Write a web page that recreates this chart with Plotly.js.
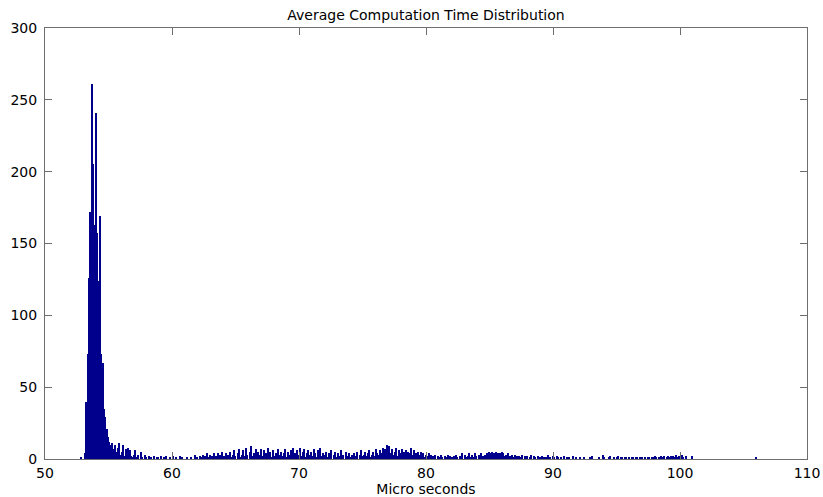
<!DOCTYPE html>
<html>
<head>
<meta charset="utf-8">
<script src="https://cdn.plot.ly/plotly-3.0.1.min.js"></script>
<style>
  html, body { margin: 0; padding: 0; background: #fff; }
  #chart { width: 823px; height: 497px; }
</style>
</head>
<body>
<div id="chart"></div>
<script>
// Histogram of average computation time (microseconds), 500 equal bins.
const firstBinCenter = 52.85;
const binWidth = 0.1065;

// Counts per bin, ten bins per row (each row spans about 1.06 us).
const binCounts = [
  1, 0, 0, 4, 40, 73, 126, 172, 261, 205,
  163, 241, 157, 124, 169, 73, 67, 35, 29, 21,
  15, 12, 10, 11, 7, 10, 5, 8, 11, 3,
  5, 10, 2, 7, 3, 8, 6, 2, 1, 3,
  6, 1, 3, 0, 5, 1, 0, 3, 1, 0,
  2, 0, 1, 0, 2, 0, 1, 1, 0, 2,
  0, 1, 0, 2, 0, 0, 1, 0, 2, 0,
  1, 0, 0, 2, 0, 1, 0, 0, 1, 0,
  0, 1, 0, 0, 3, 0, 1, 0, 2, 1,
  3, 0, 2, 4, 1, 3, 0, 2, 4, 1,
  2, 4, 0, 3, 5, 1, 2, 4, 0, 3,
  5, 1, 3, 6, 2, 0, 4, 7, 1, 3,
  6, 2, 8, 3, 0, 5, 9, 2, 4, 7,
  1, 5, 3, 7, 2, 6, 0, 4, 8, 3,
  5, 1, 6, 2, 4, 0, 7, 3, 5, 2,
  4, 7, 1, 5, 3, 6, 2, 8, 4, 1,
  6, 3, 8, 2, 5, 7, 1, 4, 6, 3,
  5, 2, 7, 4, 1, 6, 3, 8, 2, 4,
  3, 5, 1, 4, 2, 6, 0, 3, 5, 1,
  4, 2, 6, 1, 3, 0, 5, 2, 4, 1,
  3, 1, 4, 2, 5, 0, 3, 6, 2, 3,
  5, 2, 4, 6, 1, 3, 5, 2, 7, 4,
  3, 6, 4, 8, 2, 7, 10, 5, 9, 4,
  7, 3, 5, 8, 2, 6, 4, 7, 3, 5,
  6, 2, 5, 4, 8, 3, 6, 2, 4, 5,
  3, 5, 2, 4, 1, 3, 2, 4, 1, 3,
  2, 1, 3, 0, 2, 1, 3, 1, 0, 2,
  1, 3, 0, 2, 1, 0, 2, 3, 1, 0,
  2, 1, 4, 0, 3, 1, 2, 4, 1, 3,
  1, 4, 2, 0, 3, 1, 4, 2, 1, 3,
  4, 4, 5, 4, 5, 4, 4, 5, 4, 3,
  4, 5, 4, 2, 3, 1, 4, 2, 0, 3,
  1, 3, 2, 0, 2, 1, 3, 0, 2, 1,
  2, 0, 1, 3, 0, 2, 1, 0, 2, 1,
  0, 2, 1, 0, 1, 3, 0, 1, 0, 2,
  1, 0, 2, 1, 0, 1, 0, 2, 0, 1,
  0, 1, 0, 0, 2, 0, 1, 0, 0, 1,
  0, 0, 1, 0, 0, 0, 1, 0, 2, 0,
  0, 0, 0, 1, 0, 0, 3, 1, 0, 0,
  1, 2, 0, 0, 1, 0, 1, 2, 0, 1,
  1, 0, 1, 1, 0, 1, 0, 1, 1, 0,
  1, 1, 0, 1, 1, 1, 0, 1, 0, 1,
  1, 0, 1, 1, 2, 1, 0, 1, 1, 2,
  1, 2, 0, 1, 2, 1, 2, 0, 2, 1,
  3, 1, 2, 0, 3, 1, 0, 2, 0, 0,
  0, 0, 2, 0, 0, 0, 0, 0, 0, 0,
  0, 0, 0, 0, 0, 0, 0, 0, 0, 0,
  0, 0, 0, 0, 0, 0, 0, 0, 0, 0,
  0, 0, 0, 0, 0, 0, 0, 0, 0, 0,
  0, 0, 0, 0, 0, 0, 0, 0, 0, 1
];

const binCenters = binCounts.map((_, i) => firstBinCenter + i * binWidth);

const xTickValues = [50, 60, 70, 80, 90, 100, 110];
const yTickValues = [0, 50, 100, 150, 200, 250, 300];

const textFont = { family: 'DejaVu Sans, Arial, sans-serif', size: 14, color: '#000' };
const frameColor = '#6e6e6e';

const trace = {
  type: 'bar',
  x: binCenters,
  y: binCounts,
  width: binWidth,
  marker: { color: '#00008c', line: { width: 0 } },
  hoverinfo: 'x+y'
};

const commonAxis = {
  showgrid: false,
  zeroline: false,
  showline: true,
  linecolor: frameColor,
  linewidth: 1,
  mirror: 'allticks',
  ticks: 'inside',
  ticklen: 7,
  tickwidth: 1,
  tickcolor: frameColor,
  tickfont: textFont,
  fixedrange: true
};

const layout = {
  width: 823,
  height: 497,
  margin: { l: 45, r: 16, t: 28, b: 38, pad: 0 },
  paper_bgcolor: '#fff',
  plot_bgcolor: '#fff',
  showlegend: false,
  bargap: 0,
  title: {
    text: 'Average Computation Time Distribution',
    font: textFont,
    x: 0.5,
    xref: 'paper',
    y: 1 - 15 / 497,
    yref: 'container',
    yanchor: 'middle'
  },
  xaxis: Object.assign({}, commonAxis, {
    range: [50, 110],
    tickvals: xTickValues,
    ticktext: xTickValues.map(String),
    ticklabelstandoff: 1,
    title: { text: 'Micro seconds', font: textFont, standoff: 1 }
  }),
  yaxis: Object.assign({}, commonAxis, {
    range: [0, 300],
    tickvals: yTickValues,
    ticktext: yTickValues.map(String),
    ticklabelstandoff: 4
  })
};

Plotly.newPlot('chart', [trace], layout, { displayModeBar: false });
</script>
</body>
</html>
